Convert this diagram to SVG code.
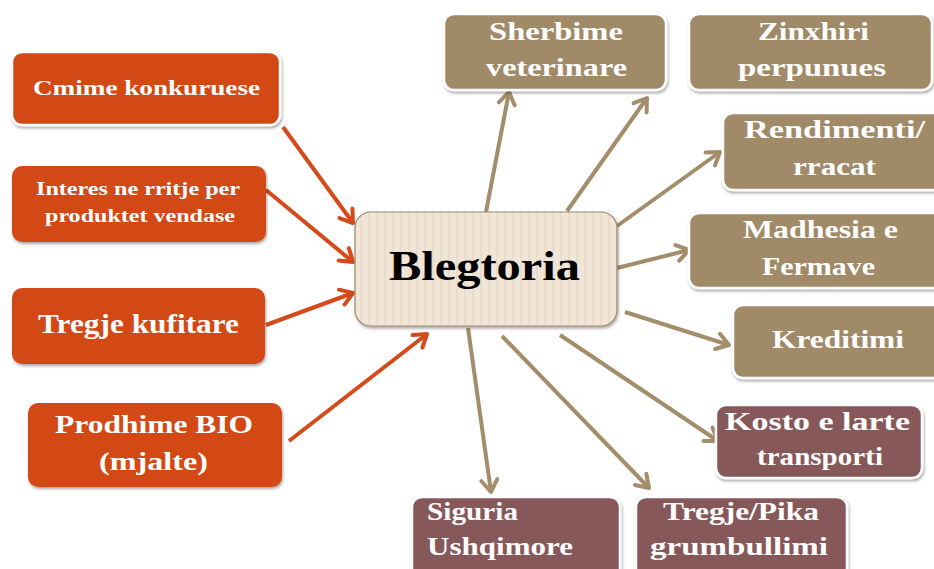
<svg xmlns="http://www.w3.org/2000/svg" width="934" height="569" viewBox="0 0 934 569">
<defs>
<style>
.box{stroke:#fff;stroke-width:2.5;filter:url(#sh)}
.o{fill:#D24A18}.t{fill:#A08A68}.m{fill:#86595A}
.lbl{font-family:"Liberation Serif",serif;font-weight:bold;fill:#fff;lengthAdjust:spacingAndGlyphs}
.ao{stroke:#D44A1A;stroke-width:4;fill:none;marker-end:url(#ho)}
.at{stroke:#A38D6B;stroke-width:4;fill:none;marker-end:url(#ht)}
</style>
<filter id="sh" x="-10%" y="-10%" width="120%" height="130%">
<feDropShadow dx="1" dy="2" stdDeviation="1.5" flood-color="#000" flood-opacity="0.35"/>
</filter>
<pattern id="stripe" width="8" height="10" patternUnits="userSpaceOnUse">
<rect width="8" height="10" fill="#F1E5D8"/>
<rect x="0" width="2" height="10" fill="#E9DCCB"/>
</pattern>
<marker id="ho" viewBox="0 0 20 20" markerWidth="20" markerHeight="20" refX="16" refY="10" orient="auto" markerUnits="userSpaceOnUse">
<path d="M4,2 L16,10 L4,18" fill="none" stroke="#D44A1A" stroke-width="4" stroke-linecap="round" stroke-linejoin="round"/>
</marker>
<marker id="ht" viewBox="0 0 20 20" markerWidth="20" markerHeight="20" refX="16" refY="10" orient="auto" markerUnits="userSpaceOnUse">
<path d="M4,2 L16,10 L4,18" fill="none" stroke="#A38D6B" stroke-width="4" stroke-linecap="round" stroke-linejoin="round"/>
</marker>
</defs>
<rect width="934" height="569" fill="#fff"/>

<g id="connectors">
<line class="ao" x1="283" y1="127" x2="353" y2="223"/>
<line class="ao" x1="266" y1="190" x2="353" y2="262"/>
<line class="ao" x1="266" y1="325" x2="353" y2="293"/>
<line class="ao" x1="289" y1="441" x2="427" y2="334"/>
<line class="at" x1="486" y1="212" x2="509" y2="92"/>
<line class="at" x1="567" y1="211" x2="647" y2="98"/>
<line class="at" x1="617" y1="226" x2="720" y2="152"/>
<line class="at" x1="617" y1="268" x2="689" y2="250"/>
<line class="at" x1="625" y1="312" x2="729" y2="345"/>
<line class="at" x1="560" y1="335" x2="718" y2="441"/>
<line class="at" x1="468" y1="328" x2="491" y2="492"/>
<line class="at" x1="502" y1="336" x2="649" y2="488"/>
</g>

<g id="center">
<rect x="355" y="212" width="262" height="114" rx="16" fill="url(#stripe)" stroke="#9A876A" stroke-width="1.2" filter="url(#sh)"/>
<text x="389" y="280" font-size="42" textLength="191" lengthAdjust="spacingAndGlyphs" font-family="Liberation Serif,serif" font-weight="bold" fill="#000">Blegtoria</text>
</g>

<g id="cmime">
<rect class="box o" x="12" y="52" width="268" height="73" rx="10"/>
<text class="lbl" x="33" y="95" font-size="22" textLength="227" lengthAdjust="spacingAndGlyphs">Cmime konkuruese</text>
</g>
<g id="interes">
<rect class="box o" x="12" y="166" width="254" height="76" rx="10" style="stroke:none"/>
<text class="lbl" x="36" y="195" font-size="18" textLength="204" lengthAdjust="spacingAndGlyphs">Interes ne rritje per</text>
<text class="lbl" x="45" y="222" font-size="18" textLength="190" lengthAdjust="spacingAndGlyphs">produktet vendase</text>
</g>
<g id="tregje-kufitare">
<rect class="box o" x="12" y="288" width="253" height="76" rx="10" style="stroke:none"/>
<text class="lbl" x="38" y="333" font-size="27" textLength="201" lengthAdjust="spacingAndGlyphs">Tregje kufitare</text>
</g>
<g id="prodhime">
<rect class="box o" x="28" y="403" width="254" height="84" rx="10" style="stroke:none"/>
<text class="lbl" x="55" y="433" font-size="26" textLength="198" lengthAdjust="spacingAndGlyphs">Prodhime BIO</text>
<text class="lbl" x="99" y="470" font-size="26" textLength="109" lengthAdjust="spacingAndGlyphs">(mjalte)</text>
</g>

<g id="sherbime">
<rect class="box t" x="444" y="14" width="222" height="76" rx="10"/>
<text class="lbl" x="489" y="40" font-size="25" textLength="134" lengthAdjust="spacingAndGlyphs">Sherbime</text>
<text class="lbl" x="486" y="76" font-size="25" textLength="141" lengthAdjust="spacingAndGlyphs">veterinare</text>
</g>
<g id="zinxhiri">
<rect class="box t" x="689" y="14" width="243" height="76" rx="10"/>
<text class="lbl" x="758" y="40" font-size="25" textLength="111" lengthAdjust="spacingAndGlyphs">Zinxhiri</text>
<text class="lbl" x="738" y="76" font-size="25" textLength="148" lengthAdjust="spacingAndGlyphs">perpunues</text>
</g>
<g id="rendimenti">
<rect class="box t" x="723" y="113" width="230" height="77" rx="10"/>
<text class="lbl" x="744" y="138" font-size="25" textLength="181" lengthAdjust="spacingAndGlyphs">Rendimenti/</text>
<text class="lbl" x="793" y="175" font-size="25" textLength="83" lengthAdjust="spacingAndGlyphs">rracat</text>
</g>
<g id="madhesia">
<rect class="box t" x="689" y="213" width="264" height="75" rx="10"/>
<text class="lbl" x="743" y="238" font-size="25" textLength="155" lengthAdjust="spacingAndGlyphs">Madhesia e</text>
<text class="lbl" x="762" y="275" font-size="25" textLength="113" lengthAdjust="spacingAndGlyphs">Fermave</text>
</g>
<g id="kreditimi">
<rect class="box t" x="733" y="305" width="220" height="73" rx="10"/>
<text class="lbl" x="772" y="348" font-size="25" textLength="132" lengthAdjust="spacingAndGlyphs">Kreditimi</text>
</g>

<g id="kosto">
<rect class="box m" x="716" y="405" width="206" height="73" rx="10"/>
<text class="lbl" x="725" y="430" font-size="25" textLength="185" lengthAdjust="spacingAndGlyphs">Kosto e larte</text>
<text class="lbl" x="757" y="465" font-size="25" textLength="126" lengthAdjust="spacingAndGlyphs">transporti</text>
</g>
<g id="siguria">
<rect class="box m" x="412" y="497" width="208" height="90" rx="10"/>
<text class="lbl" x="427" y="520" font-size="25" textLength="91" lengthAdjust="spacingAndGlyphs">Siguria</text>
<text class="lbl" x="427" y="555" font-size="25" textLength="146" lengthAdjust="spacingAndGlyphs">Ushqimore</text>
</g>
<g id="tregje-pika">
<rect class="box m" x="636" y="497" width="211" height="90" rx="10"/>
<text class="lbl" x="663" y="520" font-size="25" textLength="156" lengthAdjust="spacingAndGlyphs">Tregje/Pika</text>
<text class="lbl" x="650" y="555" font-size="25" textLength="178" lengthAdjust="spacingAndGlyphs">grumbullimi</text>
</g>
</svg>
